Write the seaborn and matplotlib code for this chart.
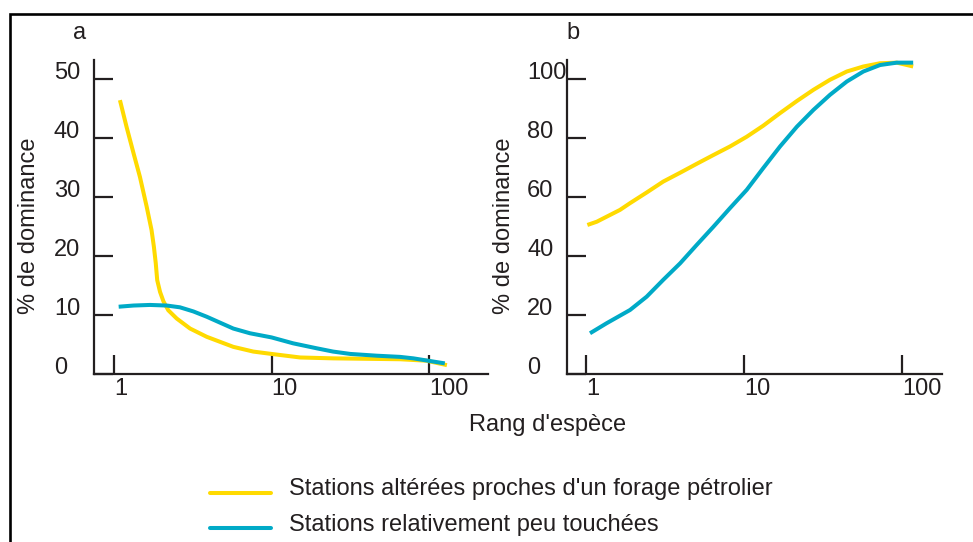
import matplotlib
matplotlib.use("Agg")
import numpy as np
import matplotlib.pyplot as plt
import matplotlib.transforms as mtransforms
from matplotlib.lines import Line2D
from matplotlib.legend_handler import HandlerLine2D
from matplotlib.ticker import NullLocator
import seaborn as sns

# ---------------- data ----------------
series_labels = ["Stations altérées proches d'un forage pétrolier",
                 "Stations relativement peu touchées"]

# panel a : % de dominance by species rank
a_yellow_rank = [1.09, 1.20, 1.33, 1.46, 1.61, 1.73, 1.79, 1.84, 1.88, 1.96, 2.06, 2.21, 2.50,
                 3.04, 3.88, 5.72, 7.66, 10, 15.2, 24.6, 65.5, 96.7, 130]
a_yellow_val = [46.4, 41.9, 37.4, 33.4, 28.4, 24.4, 21.6, 18.8, 15.9, 13.9, 12.3, 10.8, 9.4,
                7.7, 6.3, 4.6, 3.8, 3.4, 2.8, 2.65, 2.5, 2.25, 1.5]
a_blue_rank = [1.07, 1.33, 1.69, 2.16, 2.62, 3.19, 3.88, 4.71, 5.72, 7.30, 10, 13.7, 19.4,
               24.6, 31.6, 46.6, 65.5, 79.6, 101.4, 126]
a_blue_val = [11.4, 11.6, 11.7, 11.6, 11.3, 10.6, 9.7, 8.7, 7.7, 6.9, 6.2, 5.2, 4.35,
              3.8, 3.4, 3.1, 2.9, 2.65, 2.2, 1.8]

# panel b : cumulative % de dominance
b_yellow_rank = [1.02, 1.17, 1.35, 1.64, 1.90, 2.42, 3.08, 3.94, 5.01, 6.4, 8.15, 10.4, 13.2,
                 16.9, 21.6, 27.5, 35.0, 44.7, 56.9, 72.6, 92.6, 117.6]
b_yellow_val = [50.5, 51.6, 53.3, 55.6, 57.9, 61.5, 65.2, 68.2, 71.2, 74.2, 77.1, 80.4, 84.1,
                88.4, 92.5, 96.3, 99.7, 102.5, 104.2, 105.3, 105.5, 104.2]
b_blue_rank = [1.06, 1.35, 1.90, 2.42, 3.08, 3.94, 5.01, 6.4, 8.15, 10.4, 13.2, 16.9, 21.6,
               27.5, 35.0, 44.7, 56.9, 72.6, 92.6, 117.6]
b_blue_val = [13.8, 17.2, 21.7, 26.2, 31.9, 37.5, 43.7, 49.9, 56.2, 62.4, 69.7, 77.1, 83.8,
              89.5, 94.6, 99.1, 102.5, 104.7, 105.5, 105.5]

x_ticks = [1, 10, 100]
x_ticklabels = ["1", "10", "100"]
a_yticks = [0, 10, 20, 30, 40, 50]
b_yticks = [0, 20, 40, 60, 80, 100]
panel_letters = ["a", "b"]
y_title = "% de dominance"
x_title = "Rang d'espèce"

YELLOW = "#FFDA00"
BLUE = "#00AAC7"
INK = "#231f20"

# ---------------- style ----------------
sns.set_style("white")
plt.rcParams["font.family"] = ["Liberation Sans", "DejaVu Sans"]
FS = 17

W, H = 973, 542
fig = plt.figure(figsize=(W / 100, H / 100), dpi=100)

def fx(px):
    return px / W

def fy(py):
    return 1 - py / H

ax_a = fig.add_axes([fx(94), fy(374), fx(488) - fx(94), fy(60) - fy(374)])
ax_b = fig.add_axes([fx(567), fy(374), fx(942) - fx(567), fy(60) - fy(374)])

def style_axis(ax, yticks, xlim, ylim, ylab_x):
    ax.set_xscale("log")
    ax.set_xlim(*xlim)
    ax.set_ylim(*ylim)
    for s in ["top", "right"]:
        ax.spines[s].set_visible(False)
    for s in ["left", "bottom"]:
        ax.spines[s].set_color(INK)
        ax.spines[s].set_linewidth(1.6)
    ax.xaxis.set_minor_locator(NullLocator())
    ax.set_xticks(x_ticks, labels=x_ticklabels)
    ax.set_yticks(yticks, labels=[str(v) for v in yticks])
    ax.tick_params(axis="both", which="major", direction="in", length=13.5, width=1.6,
                   color=INK, labelsize=FS, labelcolor=INK,
                   bottom=True, left=True, top=False, right=False)
    ax.tick_params(axis="x", pad=3)
    ax.tick_params(axis="y", pad=0)
    for lab in ax.get_xticklabels():
        lab.set_horizontalalignment("left")
    off = mtransforms.ScaledTranslation(-40 / 100, 8 / 100, fig.dpi_scale_trans)
    for lab in ax.get_yticklabels():
        lab.set_horizontalalignment("left")
        lab.set_transform(lab.get_transform() + off)
    ax.set_xlabel("")
    ax.set_ylabel(y_title, fontsize=FS, color=INK)
    ax.yaxis.set_label_coords(ylab_x, 0.471)
    ax.set_facecolor("none")

lw = 2.9
for ax, yr, yv, br, bv in [
    (ax_a, a_yellow_rank, a_yellow_val, a_blue_rank, a_blue_val),
    (ax_b, b_yellow_rank, b_yellow_val, b_blue_rank, b_blue_val),
]:
    sns.lineplot(x=yr, y=yv, ax=ax, color=YELLOW, linewidth=lw, estimator=None,
                 sort=False, solid_joinstyle="round", solid_capstyle="butt")
    sns.lineplot(x=br, y=bv, ax=ax, color=BLUE, linewidth=lw, estimator=None,
                 sort=False, solid_joinstyle="round", solid_capstyle="butt")

style_axis(ax_a, a_yticks, (0.746, 237), (0, 53.2), -54 / 394)
style_axis(ax_b, b_yticks, (0.758, 179), (0, 106.4), -52 / 375)

# panel letters
fig.text(fx(80), fy(33), panel_letters[0], fontsize=FS, ha="center", va="center", color=INK)
fig.text(fx(573), fy(33), panel_letters[1], fontsize=FS, ha="center", va="center", color=INK)

# common x title
fig.text(fx(548), fy(425), x_title, fontsize=FS, ha="center", va="center", color=INK)


class LoweredLineHandler(HandlerLine2D):
    """Legend line drawn slightly below the text centre, as in the original figure."""
    def __init__(self, shift, **kw):
        super().__init__(**kw)
        self.shift = shift

    def create_artists(self, legend, orig_handle, xdescent, ydescent, width, height,
                       fontsize, trans):
        arts = super().create_artists(legend, orig_handle, xdescent, ydescent, width,
                                      height, fontsize, trans)
        for a in arts:
            a.set_ydata(np.asarray(a.get_ydata(), dtype=float) - self.shift)
        return arts


# legend
handles = [Line2D([], [], color=YELLOW, linewidth=lw, solid_capstyle="round"),
           Line2D([], [], color=BLUE, linewidth=lw, solid_capstyle="round")]
fig.legend(handles, series_labels, loc="upper left", bbox_to_anchor=(fx(210), fy(478)),
           frameon=False, fontsize=FS, handlelength=2.6, handletextpad=0.75,
           labelspacing=0.58, borderpad=0, borderaxespad=0, labelcolor=INK,
           handler_map={Line2D: LoweredLineHandler(shift=4.3)})

# frame (top and left visible)
fig.add_artist(Line2D([fx(10), fx(10), 1], [0, fy(14), fy(14)], color="black",
                      linewidth=1.9, transform=fig.transFigure, solid_joinstyle="miter"))

fig.savefig("out.png", dpi=100)
